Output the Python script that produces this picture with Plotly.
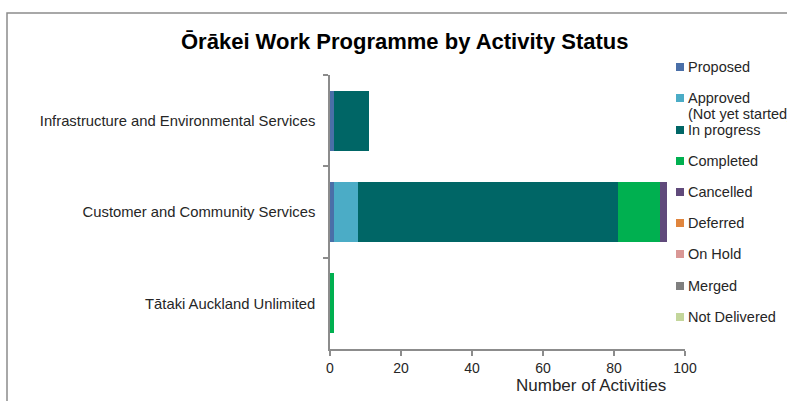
import plotly.graph_objects as go

# Work programme activity counts by department and status
departments = [
    "Infrastructure and Environmental Services",
    "Customer and Community Services",
    "Tātaki Auckland Unlimited",
]
statuses = [
    "Proposed",
    "Approved<br>(Not yet started)",
    "In progress",
    "Completed",
    "Cancelled",
    "Deferred",
    "On Hold",
    "Merged",
    "Not Delivered",
]
status_colors = [
    "#4a6fa8", "#4bacc6", "#006666", "#00b050", "#604a7b",
    "#e0853d", "#d99795", "#7f7f7f", "#c3d69b",
]
proposed = [1, 1, 0]
approved = [0, 7, 0]
in_progress = [10, 73, 0]
completed = [0, 12, 1]
cancelled = [0, 2, 0]
deferred = [0, 0, 0]
on_hold = [0, 0, 0]
merged = [0, 0, 0]
not_delivered = [0, 0, 0]
series = [proposed, approved, in_progress, completed, cancelled,
          deferred, on_hold, merged, not_delivered]
x_ticks = [0, 20, 40, 60, 80, 100]

W, H = 787, 401
L, R, T, B = 330, 685, 75, 349
FONT = "Liberation Sans, Arial, sans-serif"
AXIS_GREY = "#8c8c8c"
TEXT = "#262626"


def px_x(p):
    return (p - L) / (R - L)


def px_y(p):
    return (B - p) / (B - T)


fig = go.Figure()
for name, vals, col in zip(statuses, series, status_colors):
    fig.add_trace(go.Bar(
        y=departments, x=vals, name=name, orientation="h",
        marker=dict(color=col, line=dict(width=0)),
        showlegend=False,
    ))

# Legend drawn as swatches with labels on the right
legend_y = [67, 98, 130, 161, 192, 223, 254, 286, 317]
shapes = []
annotations = []
for name, col, yy in zip(statuses, status_colors, legend_y):
    shapes.append(dict(
        type="rect", xref="paper", yref="paper",
        x0=px_x(676), x1=px_x(684), y0=px_y(yy + 4), y1=px_y(yy - 4),
        fillcolor=col, line=dict(width=0),
    ))
    lines = name.split("<br>")
    for i, ln in enumerate(lines):
        annotations.append(dict(
            text=ln, xref="paper", yref="paper",
            x=px_x(686), y=px_y(yy + 16 * i), xanchor="left", yanchor="middle",
            showarrow=False, font=dict(family=FONT, size=14.5, color=TEXT),
        ))

# Chart frame
shapes.append(dict(
    type="rect", xref="paper", yref="paper",
    x0=px_x(7), x1=px_x(820), y0=px_y(430), y1=px_y(13),
    line=dict(color=AXIS_GREY, width=1.5), fillcolor="rgba(0,0,0,0)",
    layer="below",
))

annotations.append(dict(
    text="Number of Activities", xref="paper", yref="paper",
    x=px_x(591), y=px_y(385), xanchor="center", yanchor="middle",
    showarrow=False, font=dict(family=FONT, size=17, color=TEXT),
))
annotations.append(dict(
    text="<b>Ōrākei Work Programme by Activity Status</b>",
    xref="paper", yref="paper",
    x=px_x(405), y=px_y(42), xanchor="center", yanchor="middle",
    showarrow=False, font=dict(family=FONT, size=22, color="#000000"),
))

fig.update_layout(
    barmode="stack",
    bargap=0.34,
    width=W, height=H,
    margin=dict(l=L, r=W - R, t=T, b=H - B, pad=0),
    paper_bgcolor="white", plot_bgcolor="white",
    font=dict(family=FONT, size=13, color=TEXT),
    shapes=shapes,
    annotations=annotations,
    xaxis=dict(
        range=[0, 100], tickvals=x_ticks, showgrid=False, zeroline=False,
        showline=True, linecolor=AXIS_GREY, linewidth=1.5,
        ticks="outside", ticklen=5, tickcolor=AXIS_GREY, tickwidth=1.5,
        tickfont=dict(family=FONT, size=14, color=TEXT),
    ),
    yaxis=dict(
        categoryorder="array", categoryarray=departments, autorange="reversed",
        showgrid=False, zeroline=False,
        showline=True, linecolor=AXIS_GREY, linewidth=1.5,
        ticks="outside", ticklen=5, tickcolor=AXIS_GREY, tickwidth=1.5,
        tickson="boundaries", ticklabelstandoff=10,
        tickfont=dict(family=FONT, size=14.8, color=TEXT),
    ),
)

fig.write_html("out.html")
